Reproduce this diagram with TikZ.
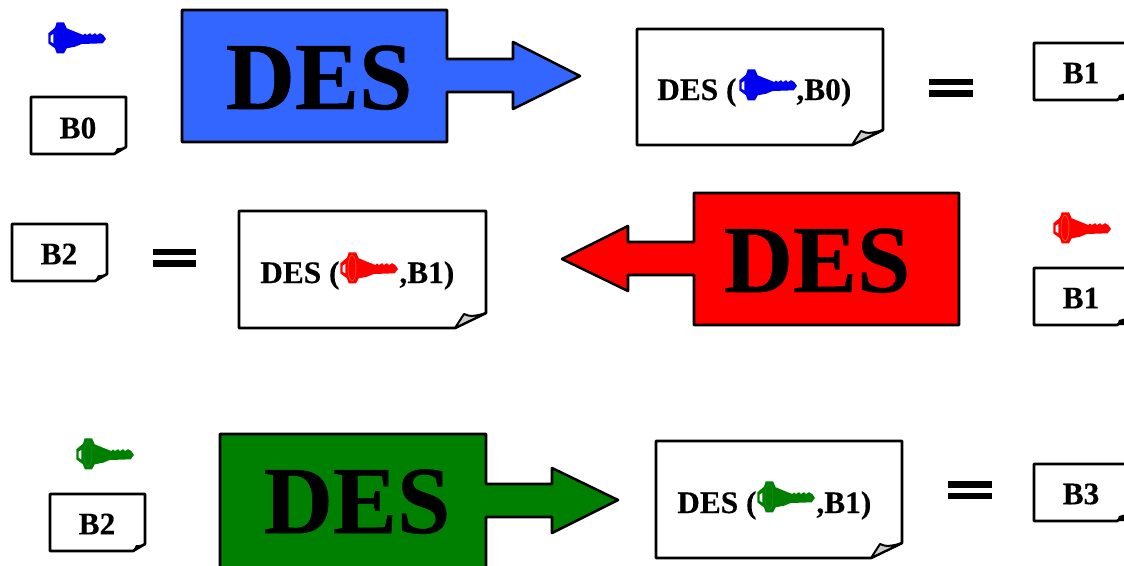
\documentclass[tikz,border=0pt]{standalone}
\usepackage{fontspec}
\setmainfont{Liberation Serif}
\newfontfamily\desfont[BoldFeatures={FakeBold=0.5}]{Liberation Serif}
\newfontfamily\labfont[BoldFeatures={FakeBold=0.25}]{Liberation Serif}
\definecolor{keyblue}{RGB}{0,0,240}
\definecolor{ringblue}{RGB}{10,10,225}
\definecolor{keyred}{RGB}{255,0,0}
\definecolor{ringred}{RGB}{255,110,30}
\definecolor{keygreen}{RGB}{0,128,0}
\definecolor{ringgreen}{RGB}{30,140,50}
\definecolor{desblue}{RGB}{51,102,255}
\definecolor{foldgrey}{RGB}{204,204,204}
\tikzset{
  block/.style={draw=black,line width=1.9pt,line join=round},
  note/.style={draw=black,fill=white,line width=2pt,line join=round},
  notefold/.style={draw=black,line width=1.5pt,line join=round},
  destext/.style={font=\desfont\fontsize{72}{72}\selectfont\bfseries,inner sep=0pt,text=black,anchor=base},
  lab/.style={font=\labfont\fontsize{23.5}{24}\selectfont\bfseries,inner sep=0pt,text=black},
  eqbar/.style={fill=black},
  pics/thekey/.style 2 args={code={
    \fill[#1] (0.3,-4.7) -- (7,-10.3) -- (8.7,-15.7) -- (16,-15.7) -- (18.7,-9.7) -- (27,-6.3) -- (35.3,-3)
      -- (37,-4.5) -- (39,-3) -- (42,-4.8) -- (44,-3) -- (47,-4.8) -- (49,-3) -- (52,-4.8) -- (55.3,-3)
      -- (58,1) -- (54.7,5.3) -- (33.7,6) -- (27,8.7) -- (18.7,10.3) -- (16,15.3) -- (8.7,15.3) -- (7,10.3) -- (0.3,5.3) -- cycle;
    \fill[white] (2.7,-2.3) -- (5.3,-4) -- (5.3,5.3) -- (2.7,3.7) -- cycle;
    \draw[#2,line width=0.4pt] (12,0) ellipse (4 and 13);
  }}
}
\begin{document}
\begin{tikzpicture}[x=0.75pt,y=-0.75pt]
\useasboundingbox (0,0) rectangle (1124,565);
% row 1
\pic at (48,38) {thekey={keyblue}{ringblue}};
\draw[note] (31,97) -- (126,97) -- (126,147) -- (114,154) -- (31,154) -- cycle;
\fill[black] (114,154) -- (117,148) -- (120,148) -- (126,147) -- cycle;
\node[lab] (b0) at (78,128) {B0};
\draw[block,fill=desblue] (182,10) -- (447,10) -- (447,59) -- (513,59) -- (513,42) -- (580,76) -- (513,109) -- (513,92) -- (447,92) -- (447,142) -- (182,142) -- cycle;
\node[destext] (d1) at (319,109) {DES};
\draw[note] (637,29) -- (883,29) -- (883,130) -- (852,145) -- (637,145) -- cycle;
\draw[notefold,fill=foldgrey] (852,145) -- (861,131) .. controls (866,134) and (874,133) .. (883,130) -- cycle;
\node[lab,anchor=base west] (t1) at (657,100) {DES (\hspace{45pt},B0)};
\pic at (739,85) {thekey={keyblue}{ringblue}};
\fill[eqbar] (929,78.5) rectangle (973,85);
\fill[eqbar] (929,90) rectangle (973,97);
\draw[note] (1034,43) -- (1126,43) -- (1126,94) -- (1117,100) -- (1034,100) -- cycle;
\fill[black] (1117,100) -- (1119,95) -- (1126,93) -- (1126,100) -- cycle;
\node[lab] (b1a) at (1081,73) {B1};
% row 2
\draw[note] (12,224) -- (107,224) -- (107,274) -- (95,281) -- (12,281) -- cycle;
\fill[black] (95,281) -- (98,275) -- (101,275) -- (107,274) -- cycle;
\node[lab] (b2a) at (59,254) {B2};
\fill[eqbar] (153,248.5) rectangle (196,255);
\fill[eqbar] (153,260) rectangle (196,267);
\draw[note] (239,211) -- (486,211) -- (486,313) -- (455,328) -- (239,328) -- cycle;
\draw[notefold,fill=foldgrey] (455,328) -- (464,314) .. controls (469,317) and (477,316) .. (486,313) -- cycle;
\node[lab,anchor=base west] (t2) at (260,283) {DES (\hspace{45pt},B1)};
\pic at (340,268) {thekey={keyred}{ringred}};
\draw[block,fill=red] (959,193) -- (694,193) -- (694,242) -- (628,242) -- (628,226) -- (562,259) -- (628,291) -- (628,275) -- (694,275) -- (694,325) -- (959,325) -- cycle;
\node[destext] (d2) at (817,292) {DES};
\pic at (1053,228) {thekey={keyred}{ringred}};
\draw[note] (1034,268) -- (1126,268) -- (1126,319) -- (1117,325) -- (1034,325) -- cycle;
\fill[black] (1117,325) -- (1119,320) -- (1126,318) -- (1126,325) -- cycle;
\node[lab] (b1b) at (1081,298) {B1};
% row 3
\pic at (76,454) {thekey={keygreen}{ringgreen}};
\draw[note] (50,494) -- (145,494) -- (145,544) -- (133,551) -- (50,551) -- cycle;
\fill[black] (133,551) -- (136,545) -- (139,545) -- (145,544) -- cycle;
\node[lab] (b2b) at (97,524) {B2};
\draw[block,fill=keygreen] (220,580) -- (220,434) -- (486,434) -- (486,484) -- (552,484) -- (552,468) -- (618,500) -- (552,533) -- (552,517) -- (486,517) -- (486,580);
\node[destext] (d3) at (357,533) {DES};
\draw[note] (656,441) -- (902,441) -- (902,543) -- (871,558) -- (656,558) -- cycle;
\draw[notefold,fill=foldgrey] (871,558) -- (880,544) .. controls (885,547) and (893,546) .. (902,543) -- cycle;
\node[lab,anchor=base west] (t3) at (677,513) {DES (\hspace{45pt},B1)};
\pic at (757,497) {thekey={keygreen}{ringgreen}};
\fill[eqbar] (948,481) rectangle (992,487.5);
\fill[eqbar] (948,492.5) rectangle (992,499);
\draw[note] (1034,464) -- (1126,464) -- (1126,515) -- (1117,521) -- (1034,521) -- cycle;
\fill[black] (1117,521) -- (1119,516) -- (1126,514) -- (1126,521) -- cycle;
\node[lab] (b3) at (1081,494) {B3};
\end{tikzpicture}
\end{document}
